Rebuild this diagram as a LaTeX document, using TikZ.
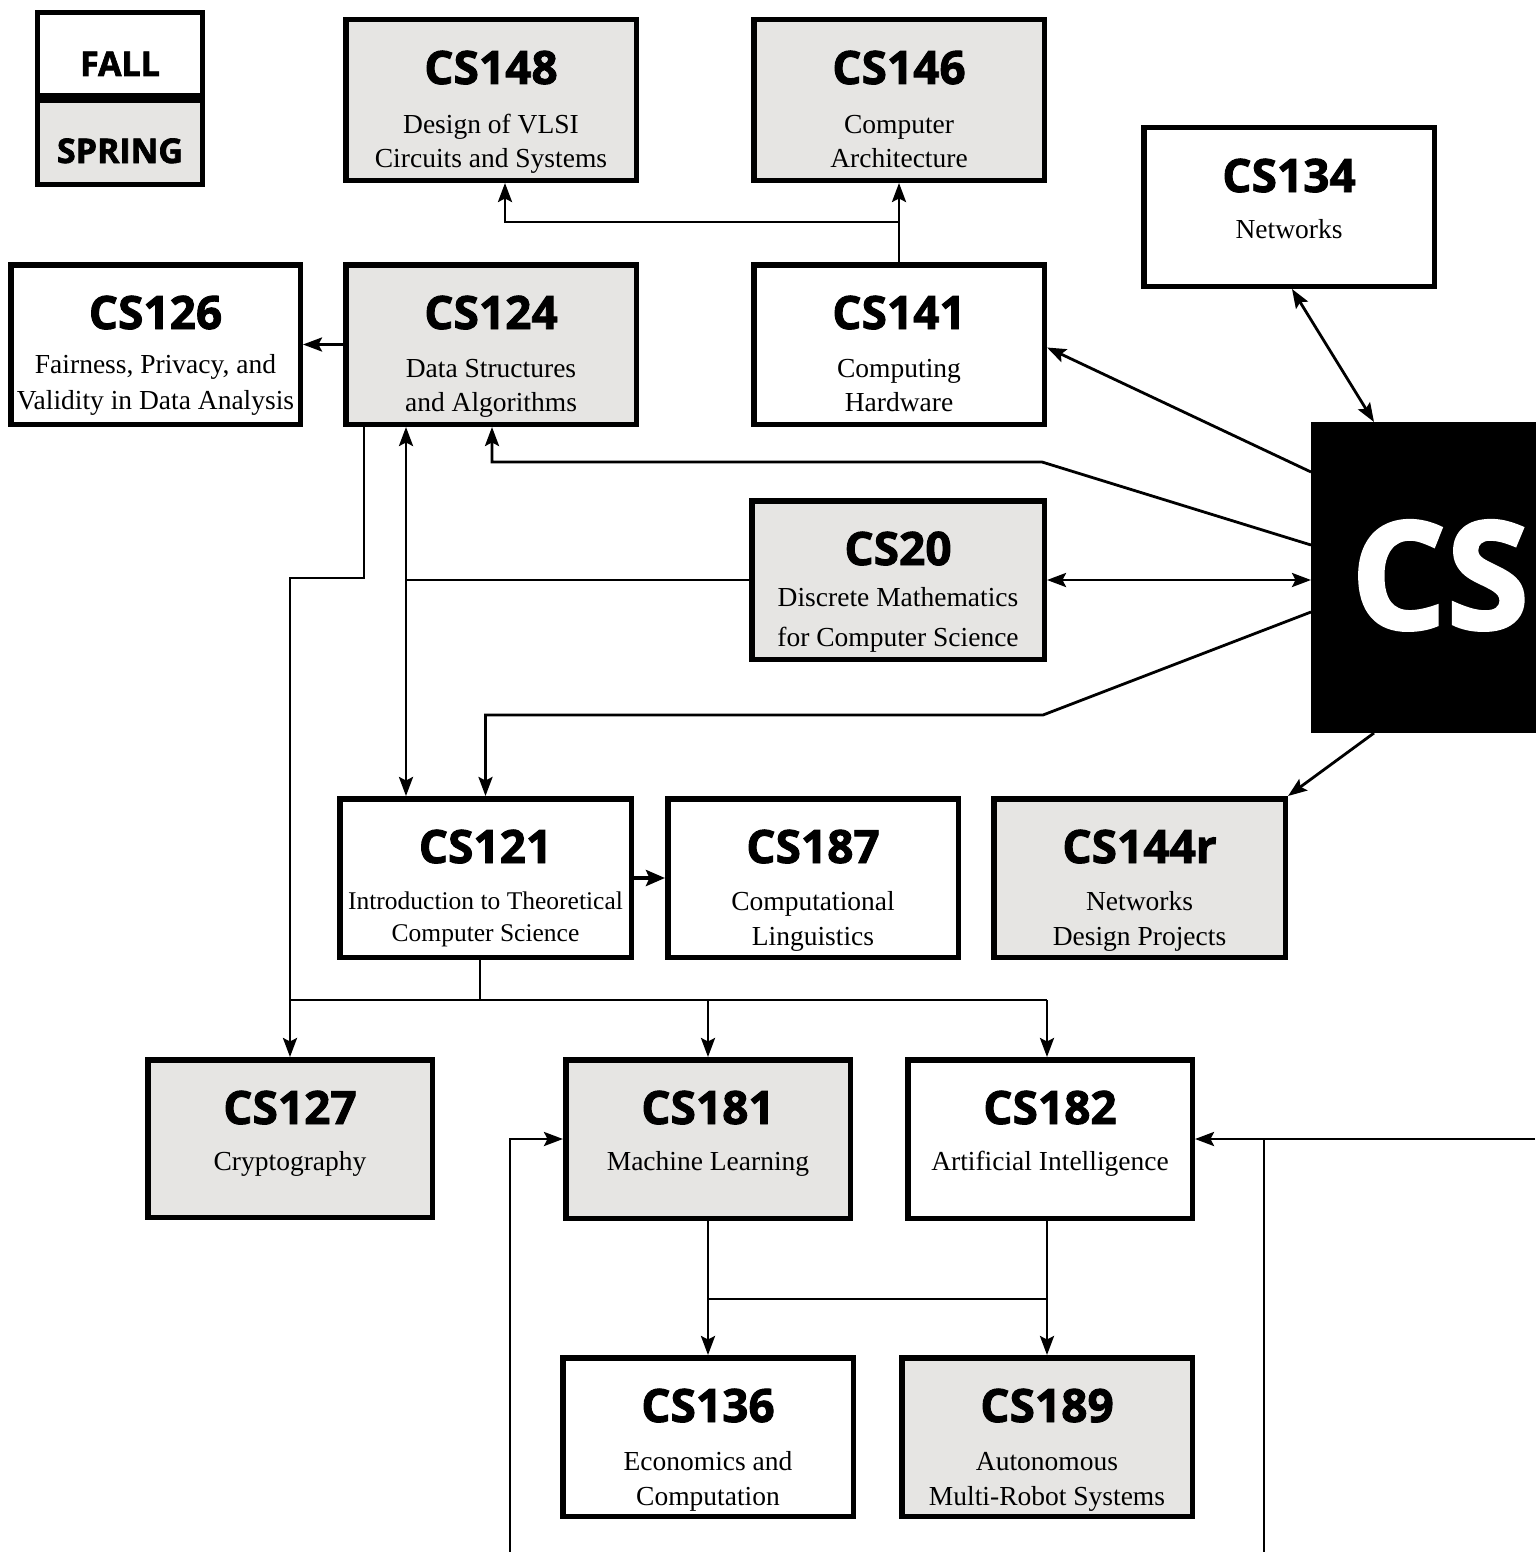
\documentclass[tikz,border=0pt]{standalone}
\usepackage{fontspec}
\setmainfont{Liberation Serif}
\newfontfamily\headfont{Open Sans}[BoldFeatures={FakeBold=2}]
\usetikzlibrary{arrows.meta}
\definecolor{spr}{HTML}{E6E5E3}
\tikzset{
  box/.style={draw, line width=5.5pt, inner sep=0pt},
  ttl/.style={font=\headfont\bfseries\fontsize{46}{46}\selectfont, anchor=base, inner sep=0pt},
  leg/.style={font=\headfont\bfseries\fontsize{34}{34}\selectfont, anchor=base, inner sep=0pt},
  bdy/.style={font=\fontsize{27.5}{27.5}\selectfont, anchor=base, inner sep=0pt},
  sml/.style={font=\fontsize{25.5}{25.5}\selectfont, anchor=base, inner sep=0pt},
  con/.style={line width=2.8pt},
  tip/.tip={Stealth[length=19pt,width=14pt,inset=3.5pt]},
  arr/.style={con, -tip},
  darr/.style={con, tip-tip},
  thk/.style={line width=4.2pt, -{Stealth[length=19pt,width=16pt,inset=3.5pt]}},
}
\newcommand\crs[7]{%
  \node[box, fill=#6, minimum width={#4-#2-5.5}, minimum height={#5-#3-5.5}] (#1) at ({(#2+#4)/2},{(#3+#5)/2}) {};
  \node[ttl] (#1t) at ({(#2+#4)/2},{#3+67}) {#7};
}
\begin{document}
\begin{tikzpicture}[x=1pt,y=-1pt]
\useasboundingbox (0,0) rectangle (1535,1552);
% legend
\node[box, fill=white, minimum width=165, minimum height=83] (fall) at (120,54) {};
\node[box, fill=spr, minimum width=165, minimum height=84] (spring) at (120,142.5) {};
\node[leg] (fallt) at (120,76) {FALL};
\node[leg] (springt) at (120,163) {SPRING};
% courses
\crs{cs148}{343}{17}{639}{183}{spr}{CS148}
\node[bdy] (cs148a) at (491,133) {Design of VLSI};
\node[bdy] (cs148b) at (491,167) {Circuits and Systems};
\crs{cs146}{751}{17}{1047}{183}{spr}{CS146}
\node[bdy] (cs146a) at (899,133) {Computer};
\node[bdy] (cs146b) at (899,167) {Architecture};
\crs{cs134}{1141}{125}{1437}{289}{white}{CS134}
\node[bdy] (cs134a) at (1289,238) {Networks};
\crs{cs126}{8}{262}{303}{427}{white}{CS126}
\node[bdy] (cs126a) at (155.5,373) {Fairness, Privacy, and};
\node[bdy] (cs126b) at (155.5,409) {Validity in Data Analysis};
\crs{cs124}{343}{262}{639}{427}{spr}{CS124}
\node[bdy] (cs124a) at (491,377) {Data Structures};
\node[bdy] (cs124b) at (491,411) {and Algorithms};
\crs{cs141}{751}{262}{1047}{427}{white}{CS141}
\node[bdy] (cs141a) at (899,377) {Computing};
\node[bdy] (cs141b) at (899,411) {Hardware};
\crs{cs20}{749}{498}{1047}{662}{spr}{CS20}
\node[bdy] (cs20a) at (898,606) {Discrete Mathematics};
\node[bdy] (cs20b) at (898,646) {for Computer Science};
\crs{cs121}{337}{796}{634}{960}{white}{CS121}
\node[sml] (cs121a) at (485.5,909) {Introduction to Theoretical};
\node[sml] (cs121b) at (485.5,941) {Computer Science};
\crs{cs187}{665}{796}{961}{960}{white}{CS187}
\node[bdy] (cs187a) at (813,910) {Computational};
\node[bdy] (cs187b) at (813,945) {Linguistics};
\crs{cs144r}{991}{796}{1288}{960}{spr}{CS144r}
\node[bdy] (cs144ra) at (1139.5,910) {Networks};
\node[bdy] (cs144rb) at (1139.5,945) {Design Projects};
\crs{cs127}{145}{1057}{435}{1220}{spr}{CS127}
\node[bdy] (cs127a) at (290,1170) {Cryptography};
\crs{cs181}{563}{1057}{853}{1221}{spr}{CS181}
\node[bdy] (cs181a) at (708,1170) {Machine Learning};
\crs{cs182}{905}{1057}{1195}{1221}{white}{CS182}
\node[bdy] (cs182a) at (1050,1170) {Artificial Intelligence};
\crs{cs136}{560}{1355}{856}{1519}{white}{CS136}
\node[bdy] (cs136a) at (708,1470) {Economics and};
\node[bdy] (cs136b) at (708,1505) {Computation};
\crs{cs189}{899}{1355}{1195}{1519}{spr}{CS189}
\node[bdy] (cs189a) at (1047,1470) {Autonomous};
\node[bdy] (cs189b) at (1047,1505) {Multi-Robot Systems};
% big CS
\node[fill=black, draw=none, minimum width=260, minimum height=311, inner sep=0pt, outer sep=0pt] (cs) at (1441,577.5) {};
\node[font=\headfont\bfseries\fontsize{150}{150}\selectfont, text=white, anchor=base, inner sep=0pt] (cst) at (1440,629) {CS};
% coordinates
\coordinate (csA) at (1311,472);
\coordinate (csB) at (1311,545);
\coordinate (csC) at (1311,612);
\coordinate (csD) at (1374,422);
\coordinate (csE) at (1374,733);
\coordinate (k1) at (1042,462);
\coordinate (k2) at (1043,715);
\coordinate (j148) at (899,222);
\coordinate (p148) at (505,0);
\coordinate (p124) at (492,0);
\coordinate (v1) at (406,0);
\coordinate (v2) at (364,578);
\coordinate (h1) at (480,1000);
\coordinate (h2) at (1047,1000);
\coordinate (m1) at (709,1299);
\coordinate (b1) at (510,1552);
\coordinate (b2) at (1535,0);
\coordinate (b3) at (1264,1552);
% connectors
\draw[arr] (cs141.north) -- (cs146.south);
\draw[arr] (j148) -| (p148 |- cs148.south);
\draw[arr] (cs124.west) -- (cs126.east);
\draw[arr] (csA) -- ([yshift=-3pt]cs141.east);
\draw[arr] (csB) -- (k1) -- (k1 -| p124) -- (p124 |- cs124.south);
\draw[darr] (cs20.east) -- (cs20.east -| cs.west);
\draw[arr] (csC) -- (k2) -| (cs121.north);
\draw[darr] ([xshift=3pt]cs134.south) -- (csD);
\draw[arr] (csE) -- (cs144r.north east);
\draw[darr] (v1 |- cs124.south) -- (v1 |- cs121.north);
\draw[con] (cs20.west) -- (v1 |- cs20.west);
\draw[arr] (v2 |- cs124.south) -- (v2) -| (cs127.north);
\draw[thk] (cs121.east) -- (cs187.west);
\draw[con] (h1 |- cs121.south) -- (h1);
\draw[con] (cs127.north |- h1) -- (h2);
\draw[arr] (cs181.north |- h1) -- (cs181.north);
\draw[arr] (h2) -- (h2 |- cs182.north);
\draw[arr] (cs181.south) -- (cs136.north);
\draw[arr] (cs189.north |- cs182.south) -- (cs189.north);
\draw[con] (m1) -- (m1 -| cs189.north);
\draw[arr] (b1) |- (cs181.west);
\draw[arr] (b2 |- cs182.east) -- (cs182.east);
\draw[con] (b3) -- (b3 |- cs182.east);
\end{tikzpicture}
\end{document}
